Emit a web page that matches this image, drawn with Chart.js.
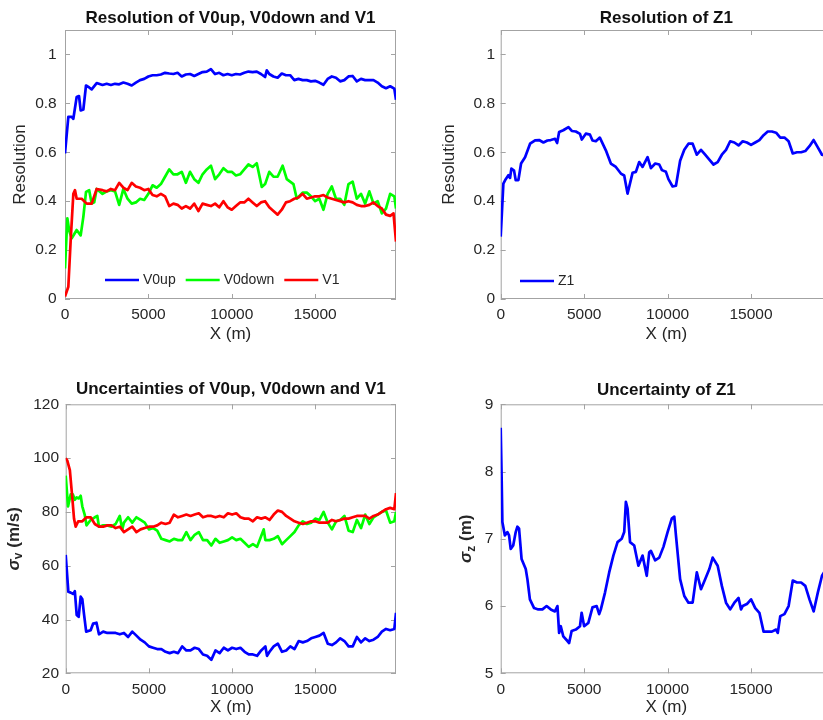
<!DOCTYPE html>
<html>
<head>
<meta charset="utf-8">
<title>Resolution and uncertainty along the profile</title>
<script src="https://cdn.jsdelivr.net/npm/chart.js@4.4.1/dist/chart.umd.min.js"></script>
<style>
  html, body { margin: 0; padding: 0; background: #fff; overflow: hidden; }
  #page { position: relative; width: 823px; height: 720px; overflow: hidden; background: #fff; }
  #page canvas { position: absolute; }
</style>
</head>
<body>
<div id="page">
  <canvas id="resV" width="410" height="350" style="left:0;top:0"></canvas>
  <canvas id="resZ" width="430" height="350" style="left:410px;top:0"></canvas>
  <canvas id="sigV" width="410" height="365" style="left:0;top:355px"></canvas>
  <canvas id="sigZ" width="430" height="365" style="left:410px;top:355px"></canvas>
</div>
<script>
/* ==========================================
   DATA  ([X in m, value])
   ========================================== */
const X_MAX = 19850;
const xTicks   = [0, 5000, 10000, 15000];
const resTicks = [0, 0.2, 0.4, 0.6, 0.8, 1];
const sigVTicks = [20, 40, 60, 80, 100, 120];
const sigZTicks = [5, 6, 7, 8, 9];

const resV0up = [
  [0,.595],[200,.745],[400,.745],[500,.737],[700,.826],[840,.83],[940,.771],[1100,.775],[1260,.873],[1450,.865],
  [1600,.857],[1900,.883],[2250,.875],[2500,.88],[2750,.875],[3000,.88],[3250,.878],[3500,.885],[3750,.88],[4000,.873],
  [4250,.885],[4500,.895],[4750,.9],[5000,.91],[5250,.915],[5500,.915],[5750,.918],[6000,.925],[6250,.922],[6500,.92],
  [6750,.925],[7000,.91],[7250,.918],[7500,.92],[7750,.912],[8000,.92],[8250,.928],[8500,.93],[8750,.94],[9000,.92],
  [9250,.925],[9500,.915],[9750,.92],[10000,.915],[10250,.92],[10500,.918],[10750,.925],[11000,.93],[11250,.928],[11500,.93],
  [11750,.92],[12000,.908],[12100,.935],[12250,.92],[12500,.91],[12750,.905],[13000,.922],[13250,.915],[13500,.915],[13750,.895],
  [14000,.9],[14250,.895],[14500,.895],[14750,.89],[15000,.892],[15250,.885],[15500,.876],[15750,.9],[16000,.91],[16250,.905],
  [16500,.89],[16750,.895],[17000,.91],[17250,.912],[17500,.89],[17750,.9],[18000,.895],[18250,.895],[18500,.895],[18750,.885],
  [19000,.87],[19250,.862],[19500,.87],[19750,.86],[19850,.815]
];
const resV0down = [
  [0,.125],[140,.33],[250,.28],[400,.248],[550,.265],[700,.282],[940,.26],[1100,.336],[1260,.438],[1450,.445],
  [1600,.39],[1750,.395],[1900,.45],[2250,.43],[2500,.44],[2750,.445],[3000,.44],[3250,.385],[3500,.45],[3750,.41],
  [4000,.39],[4250,.395],[4500,.41],[4750,.405],[5000,.43],[5250,.465],[5500,.455],[5750,.47],[6000,.5],[6250,.53],
  [6500,.51],[6750,.51],[7000,.52],[7250,.475],[7500,.52],[7750,.49],[8000,.475],[8250,.51],[8500,.53],[8750,.545],
  [9000,.49],[9250,.51],[9500,.535],[9750,.52],[10000,.52],[10250,.505],[10500,.51],[10750,.53],[11000,.55],[11250,.54],
  [11500,.555],[11800,.458],[12000,.47],[12250,.52],[12500,.5],[12750,.5],[13050,.545],[13300,.49],[13500,.48],[13700,.47],
  [13900,.41],[14250,.435],[14500,.435],[14750,.42],[15000,.4],[15250,.41],[15500,.365],[15750,.43],[16000,.46],[16250,.41],
  [16500,.41],[16750,.385],[17000,.47],[17250,.48],[17500,.41],[17750,.43],[18000,.39],[18250,.44],[18500,.39],[18750,.4],
  [19000,.35],[19250,.37],[19500,.43],[19750,.42],[19850,.37]
];
const resV1 = [
  [0,.01],[200,.05],[340,.24],[500,.43],[600,.445],[700,.41],[1000,.41],[1300,.39],[1600,.39],[1900,.45],
  [2250,.445],[2500,.44],[2750,.45],[3000,.445],[3250,.475],[3500,.455],[3750,.445],[4000,.475],[4250,.46],[4500,.455],
  [4750,.445],[5000,.45],[5250,.425],[5500,.42],[5750,.43],[6000,.42],[6250,.38],[6500,.39],[6750,.385],[7000,.37],
  [7250,.38],[7500,.37],[7750,.39],[8000,.36],[8250,.39],[8500,.385],[8750,.38],[9000,.39],[9250,.375],[9500,.4],
  [9750,.375],[10000,.365],[10250,.38],[10500,.395],[10750,.395],[11000,.41],[11250,.395],[11500,.38],[11750,.395],[12000,.4],
  [12250,.375],[12500,.36],[12750,.345],[13000,.365],[13250,.395],[13500,.4],[13750,.41],[14000,.415],[14250,.43],[14500,.41],
  [14750,.415],[15000,.42],[15250,.42],[15500,.425],[15750,.415],[16000,.41],[16250,.405],[16500,.4],[16750,.395],[17000,.4],
  [17250,.395],[17500,.385],[17750,.38],[18000,.38],[18250,.385],[18500,.395],[18750,.38],[19000,.37],[19250,.345],[19500,.34],
  [19700,.35],[19850,.235]
];
const resZ1 = [
  [0,.255],[160,.472],[300,.49],[460,.506],[560,.495],[640,.533],[800,.525],[900,.486],[1060,.486],[1220,.554],
  [1460,.58],[1760,.635],[2060,.649],[2300,.65],[2560,.64],[2800,.648],[3000,.65],[3260,.655],[3380,.638],[3500,.683],
  [3750,.69],[4060,.703],[4260,.687],[4500,.685],[4750,.675],[4860,.652],[5100,.676],[5350,.672],[5500,.648],[5700,.645],
  [5940,.66],[6300,.608],[6600,.554],[6900,.54],[7200,.513],[7400,.505],[7600,.431],[7900,.516],[8100,.52],[8300,.56],
  [8500,.54],[8800,.58],[9000,.535],[9260,.554],[9500,.55],[9660,.527],[9900,.52],[10050,.49],[10300,.46],[10500,.463],
  [10750,.565],[11000,.61],[11250,.635],[11500,.635],[11750,.59],[12000,.61],[12250,.59],[12500,.57],[12750,.55],[13000,.56],
  [13250,.59],[13500,.61],[13750,.645],[14000,.64],[14250,.628],[14500,.645],[14750,.64],[15000,.63],[15250,.64],[15500,.65],
  [15750,.67],[16000,.685],[16250,.685],[16500,.68],[16750,.66],[17000,.66],[17250,.645],[17500,.595],[17750,.6],[18000,.6],
  [18250,.605],[18500,.625],[18750,.65],[19000,.62],[19250,.59],[19500,.585],[19850,.58]
];

const sigV0up = [
  [0,64],[160,50.3],[300,50],[460,49.5],[550,50.5],[660,41.7],[780,41],[900,48.5],[1000,47.5],[1100,42],
  [1230,35.5],[1500,36],[1650,38.5],[1850,38.8],[2000,34.5],[2250,35.5],[2500,35],[2750,35],[3000,35],[3250,34.5],
  [3500,35],[3750,33.5],[4000,35.5],[4250,34],[4500,32.5],[4750,31.5],[5000,30],[5250,29.5],[5500,29],[5750,29],
  [6000,28],[6250,27.5],[6500,28],[6750,27.5],[7000,30],[7250,28.5],[7500,28.5],[7750,29.5],[8000,29],[8250,27],
  [8500,26.5],[8750,25],[9000,28.5],[9250,27.5],[9500,29.5],[9750,28.5],[10000,29.5],[10250,29],[10500,29.5],[10750,28],
  [11000,27],[11250,27],[11500,26.5],[11750,28.5],[12000,30],[12100,26.5],[12250,28],[12500,30],[12750,31],[13000,28],
  [13250,28.5],[13500,30],[13750,29],[14000,32],[14250,31.5],[14500,32],[14750,33],[15000,33.5],[15250,34],[15500,35],
  [15750,31],[16000,30.5],[16250,31.5],[16500,33],[16750,32],[17000,30],[17250,30],[17500,33.5],[17750,31.5],[18000,33],
  [18250,32],[18500,32.5],[18750,33.5],[19000,35.5],[19250,36.5],[19500,36],[19750,36.5],[19850,42.5]
];
const sigV0down = [
  [0,93.5],[140,82],[300,86.5],[430,86.5],[550,84.5],[660,85.4],[780,85],[900,86],[1000,82],[1140,79],
  [1250,75],[1500,77],[1750,78],[1900,78.5],[2000,74.5],[2250,75],[2500,75],[2750,74.5],[3000,75.5],[3250,78.5],
  [3400,73.5],[3500,76],[3750,78],[4000,76],[4250,78],[4500,77],[4750,76],[5000,73.5],[5250,74],[5500,73],
  [5750,70],[6000,69.5],[6250,69],[6500,70],[6750,69.5],[7000,69.5],[7250,72.5],[7500,69.5],[7750,71.5],[8000,72.5],
  [8250,69.5],[8500,69.5],[8750,67.5],[9000,70],[9250,68.5],[9500,69],[9750,69.5],[10000,70.5],[10250,69.5],[10500,70],
  [10750,68.5],[11000,67],[11250,68],[11500,67],[11750,71],[11900,73.5],[12000,69.5],[12250,69.5],[12500,70],[12750,71],
  [13000,68],[13250,69.5],[13500,71],[13750,72.5],[14000,75],[14250,76.5],[14500,75.5],[14750,76],[15000,77.5],[15250,77],
  [15500,80],[15750,76],[16000,73.5],[16250,76.5],[16500,77],[16750,78.5],[17000,73],[17250,72.5],[17500,77],[17750,74],
  [18000,79],[18250,75.5],[18500,78],[18750,79],[19000,80],[19250,80.5],[19500,76],[19750,76.5],[19850,80]
];
const sigV1 = [
  [0,100],[100,99],[250,95.5],[400,85],[500,77.5],[600,74.5],[750,76.5],[1000,76.5],[1250,78],[1500,78],
  [1750,75.5],[2000,74.5],[2250,74.5],[2500,75],[2750,75],[3000,74],[3250,74.5],[3500,72.5],[3750,73.5],[4000,74.5],
  [4250,72.5],[4500,73.5],[4750,74],[5000,74.5],[5250,74.5],[5500,75],[5750,76],[6000,75.5],[6250,76],[6500,79],
  [6750,78],[7000,78.5],[7250,79],[7500,78.5],[7750,79],[8000,79.5],[8250,78],[8500,78.5],[8750,78.5],[9000,78],
  [9250,78.5],[9500,78],[9750,79.5],[10000,79],[10250,79.5],[10500,78],[10750,77.5],[11000,77.5],[11250,76.5],[11500,78],
  [11750,77.5],[12000,78],[12250,77],[12500,79],[12750,80.5],[13000,80],[13250,78.5],[13500,77.5],[13750,76.5],[14000,76],
  [14250,75.5],[14500,76],[14750,76.5],[15000,76.5],[15250,76],[15500,76],[15750,76],[16000,77],[16250,76.5],[16500,77],
  [16750,77.5],[17000,77.5],[17250,78],[17500,78.5],[17750,78.5],[18000,78.5],[18250,77.5],[18500,78.5],[18750,79],[19000,80],
  [19250,81],[19500,81.5],[19750,81],[19850,87]
];
const sigZ1 = [
  [0,8.65],[50,8.0],[100,7.25],[250,7.05],[400,7.1],[500,7.05],[600,6.85],[750,6.9],[900,7.1],[1000,7.18],
  [1100,7.15],[1250,6.7],[1500,6.55],[1600,6.4],[1750,6.1],[2000,5.97],[2250,5.95],[2500,5.95],[2750,6.0],[3000,5.95],
  [3250,5.92],[3400,6.0],[3500,5.6],[3600,5.7],[3750,5.55],[4000,5.48],[4100,5.45],[4250,5.63],[4500,5.65],[4750,5.7],
  [4850,5.9],[5000,5.7],[5250,5.75],[5500,5.98],[5750,6.0],[5900,5.88],[6000,5.95],[6250,6.2],[6500,6.5],[6750,6.75],
  [7000,6.95],[7250,7.0],[7400,7.1],[7500,7.55],[7600,7.45],[7750,6.95],[8000,6.9],[8250,6.6],[8500,6.75],[8750,6.45],
  [8900,6.8],[9000,6.82],[9250,6.68],[9500,6.72],[9750,6.88],[10000,7.1],[10250,7.3],[10400,7.33],[10500,7.05],[10750,6.4],
  [11000,6.15],[11250,6.05],[11500,6.05],[11750,6.5],[12000,6.25],[12250,6.4],[12500,6.55],[12700,6.72],[13000,6.6],[13250,6.3],
  [13500,6.05],[13750,5.95],[14000,6.05],[14250,6.12],[14400,5.95],[14500,6.0],[14750,6.03],[15000,6.1],[15250,5.97],[15500,5.9],
  [15750,5.62],[16000,5.62],[16250,5.62],[16500,5.65],[16600,5.6],[16750,5.85],[17000,5.88],[17250,6.0],[17500,6.38],[17750,6.35],
  [18000,6.35],[18250,6.3],[18500,6.1],[18750,5.92],[19000,6.2],[19250,6.45],[19500,6.55],[19850,6.6]
];

/* ==========================================
   STYLE
   ========================================== */
const FONT  = '"Liberation Sans", Arial, Helvetica, sans-serif';
const INK   = '#262626';
const FRAME = '#a3a3a3';
const BLUE = '#0000ff', GREEN = '#00ff00', RED = '#ff0000';

const pts = arr => arr.map(([x, y]) => ({ x, y }));

function line(label, arr, color, order) {
  return {
    label, data: pts(arr), borderColor: color, backgroundColor: color,
    borderWidth: 2.7, pointRadius: 0, tension: 0, borderJoinStyle: 'round', order
  };
}

/* ==========================================
   PLUGINS
   ========================================== */
// full box with short inward ticks on all four sides
const frameTicks = {
  id: 'frameTicks',
  beforeDatasetsDraw(chart) {
    const { ctx, chartArea: a, scales: { x, y } } = chart;
    const L = 5;
    ctx.save();
    ctx.strokeStyle = FRAME;
    ctx.lineWidth = 1;
    ctx.strokeRect(a.left + 0.5, a.top + 0.5, a.width - 1, a.height - 1);
    ctx.beginPath();
    x.ticks.forEach(t => {
      const p = Math.round(x.getPixelForValue(t.value)) + 0.5;
      ctx.moveTo(p, a.bottom); ctx.lineTo(p, a.bottom - L);
      ctx.moveTo(p, a.top);    ctx.lineTo(p, a.top + L);
    });
    y.ticks.forEach(t => {
      const p = Math.round(y.getPixelForValue(t.value)) + 0.5;
      ctx.moveTo(a.left, p);  ctx.lineTo(a.left + L, p);
      ctx.moveTo(a.right, p); ctx.lineTo(a.right - L, p);
    });
    ctx.stroke();
    ctx.restore();
  }
};

// borderless horizontal legend inside the plot, near the bottom
const lineKey = {
  id: 'lineKey',
  afterDatasetsDraw(chart, args, o) {
    if (!o.show) return;
    const { ctx, chartArea: a } = chart;
    let x = a.left + o.dx;
    const y = a.bottom - o.dy;
    ctx.save();
    ctx.font = `14px ${FONT}`;
    ctx.textBaseline = 'middle';
    chart.data.datasets.forEach(ds => {
      ctx.strokeStyle = ds.borderColor;
      ctx.lineWidth = ds.borderWidth;
      ctx.beginPath(); ctx.moveTo(x, y); ctx.lineTo(x + 34, y); ctx.stroke();
      x += 38;
      ctx.fillStyle = INK;
      ctx.fillText(ds.label, x, y);
      x += ctx.measureText(ds.label).width + 10;
    });
    ctx.restore();
  }
};

// rotated y label with a subscript, e.g. σ_v (m/s)
const subLabel = {
  id: 'subLabel',
  afterDraw(chart, args, o) {
    if (!o.sym) return;
    const { ctx, chartArea: a } = chart;
    const fMain = `italic bold 17px ${FONT}`;
    const fSub  = `bold 12px ${FONT}`;
    const fTail = `bold 17px ${FONT}`;
    ctx.save();
    ctx.translate(o.x, (a.top + a.bottom) / 2);
    ctx.rotate(-Math.PI / 2);
    ctx.fillStyle = INK;
    ctx.textBaseline = 'middle';
    ctx.font = fMain; const w1 = ctx.measureText(o.sym).width;
    ctx.font = fSub;  const w2 = ctx.measureText(o.sub).width;
    ctx.font = fTail; const w3 = ctx.measureText(o.tail).width;
    let x = -(w1 + w2 + w3) / 2;
    ctx.font = fMain; ctx.fillText(o.sym, x, 0); x += w1;
    ctx.font = fSub;  ctx.fillText(o.sub, x, 5); x += w2;
    ctx.font = fTail; ctx.fillText(o.tail, x, 0);
    ctx.restore();
  }
};

/* ==========================================
   CHART FACTORY
   ========================================== */
function makeChart(id, p) {
  const canvas = document.getElementById(id);
  return new Chart(canvas.getContext('2d'), {
    type: 'line',
    data: { datasets: p.datasets },
    plugins: [frameTicks, lineKey, subLabel],
    options: {
      responsive: false,
      animation: false,
      events: [],
      layout: { padding: { left: 0, top: 0, right: canvas.width - p.right, bottom: p.padBottom } },
      plugins: {
        legend:  { display: false },
        tooltip: { enabled: false },
        title: {
          display: true, text: p.title, fullSize: false, color: '#111',
          font: { family: FONT, size: 17, weight: 'bold' },
          padding: { top: p.titleTop, bottom: p.titleBottom }
        },
        lineKey:  p.key || { show: false },
        subLabel: p.yLabel || {}
      },
      scales: {
        x: {
          type: 'linear', min: 0, max: X_MAX,
          afterBuildTicks: s => { s.ticks = xTicks.map(v => ({ value: v })); },
          afterFit: s => { s.height = p.xH; },
          grid: { display: false, drawTicks: false },
          border: { display: false },
          ticks: { padding: 6.7, color: INK, maxRotation: 0, autoSkip: false,
                   font: { family: FONT, size: 15.5 }, callback: v => String(v) },
          title: { display: true, text: 'X (m)', color: INK, padding: 0,
                   font: { family: FONT, size: 17 } }
        },
        y: {
          type: 'linear', min: p.yMin, max: p.yMax,
          afterBuildTicks: s => { s.ticks = p.yTicks.map(v => ({ value: v })); },
          afterFit: s => { s.width = p.left; },
          grid: { display: false, drawTicks: false },
          border: { display: false },
          ticks: { padding: p.yTickPad, color: INK, autoSkip: false,
                   font: { family: FONT, size: 15.5 }, callback: v => String(v) },
          title: { display: !!p.yTitle, text: p.yTitle || '', color: INK,
                   padding: { top: p.yTitlePad || 0, bottom: 0 },
                   font: { family: FONT, size: 17 } }
        }
      }
    }
  });
}

makeChart('resV', {
  title: 'Resolution of V0up, V0down and V1',
  datasets: [line('V0up', resV0up, BLUE, 3), line('V0down', resV0down, GREEN, 2), line('V1', resV1, RED, 1)],
  left: 65, right: 396, titleTop: 8.1, titleBottom: 1.5, xH: 45.2, padBottom: 5.8,
  yMin: 0, yMax: 1.1, yTicks: resTicks, yTickPad: 8.3, yTitle: 'Resolution', yTitlePad: 10.1,
  key: { show: true, dx: 40, dy: 19 }
});

makeChart('resZ', {
  title: 'Resolution of Z1',
  datasets: [line('Z1', resZ1, BLUE, 1)],
  left: 90.7, right: 422, titleTop: 8.6, titleBottom: 1, xH: 45.2, padBottom: 5.8,
  yMin: 0, yMax: 1.1, yTicks: resTicks, yTickPad: 5.7, yTitle: 'Resolution', yTitlePad: 28.8,
  key: { show: true, dx: 19.3, dy: 18 }
});

makeChart('sigV', {
  title: 'Uncertainties of V0up, V0down and V1',
  datasets: [line('V0up', sigV0up, BLUE, 3), line('V0down', sigV0down, GREEN, 2), line('V1', sigV1, RED, 1)],
  left: 65.7, right: 396, titleTop: 24.1, titleBottom: 4.8, xH: 44.7, padBottom: 2,
  yMin: 20, yMax: 120, yTicks: sigVTicks, yTickPad: 6.7,
  yLabel: { x: 14, sym: 'σ', sub: 'v', tail: ' (m/s)' }
});

makeChart('sigZ', {
  title: 'Uncertainty of Z1',
  datasets: [line('Z1', sigZ1, BLUE, 1)],
  left: 90.7, right: 422, titleTop: 24.8, titleBottom: 4.1, xH: 44.7, padBottom: 2,
  yMin: 5, yMax: 9, yTicks: sigZTicks, yTickPad: 7.4,
  yLabel: { x: 56.7, sym: 'σ', sub: 'z', tail: ' (m)' }
});
</script>
</body>
</html>
